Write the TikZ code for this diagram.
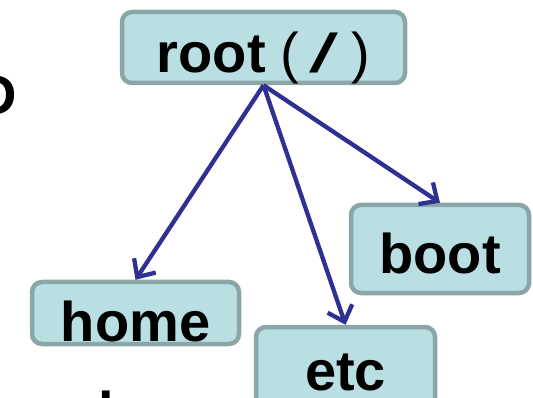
\documentclass[tikz,border=0pt]{standalone}
\usepackage{fontspec}
\setmainfont{Liberation Sans}
\usetikzlibrary{arrows.meta}
\definecolor{boxfill}{RGB}{185,223,227}
\definecolor{boxline}{RGB}{139,166,167}
\definecolor{arrowblue}{RGB}{46,49,146}
\tikzset{
  dirbox/.style={draw=boxline, fill=boxfill, line width=4.5pt, rounded corners=10pt,
    inner sep=0pt, font=\fontsize{56}{56}\selectfont\bfseries, text=black, text depth=0pt},
  link/.style={draw=arrowblue, line width=4.3pt,
    -{Straight Barb[length=14pt,width=26pt,line width=4.3pt]}},
  stray/.style={font=\fontsize{56}{56}\selectfont\bfseries, inner sep=0pt, text=black}
}
\begin{document}
\begin{tikzpicture}[x=1pt,y=-1pt]
\useasboundingbox (0,0) rectangle (533,398);
\node[stray, anchor=base east] (frag1) at (17,115) {D};
\node[stray, anchor=base west] (frag2) at (0,436) {t};
\node[stray, anchor=base west] (frag3) at (98,431) {l};
\node[dirbox, minimum width=283pt, minimum height=71pt, text height=51pt] (root) at (263.5,47.5)
  {root\hspace{15pt}\mdseries(\hspace{10pt}\scalebox{2}[1.05]{\fontsize{52}{52}\selectfont/}\hspace{13pt})};
\node[dirbox, minimum width=207pt, minimum height=62pt, text height=56pt] (home) at (135.5,313) {home};
\node[dirbox, minimum width=178pt, minimum height=88pt, text height=48pt] (boot) at (440,249) {boot};
\node[dirbox, minimum width=179pt, minimum height=92pt, text height=34pt] (etc) at (345.5,373) {etc};
\draw[link] (root.south) -- (home.north);
\draw[link] (root.south) -- (etc.north);
\draw[link] (root.south) -- (boot.north);
\end{tikzpicture}
\end{document}
